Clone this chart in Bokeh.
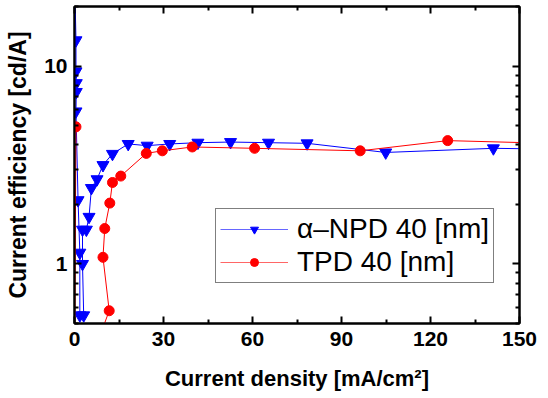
from bokeh.plotting import figure
from bokeh.models import (LinearAxis, LogAxis, FixedTicker, PrintfTickFormatter,
                          Legend, LegendItem, Range1d)
from bokeh.embed import file_html
from bokeh.resources import INLINE

# alpha-NPD 40 nm : current density [mA/cm2], current efficiency [cd/A]
npd_x = [0.0, 0.5, 0.5, 0.6, 0.6, 0.5, 1.2, 1.8, 1.8, 3.1, 2.7, 2.7, 4.0, 4.9,
         5.7, 7.6, 9.6, 12.8, 18.1, 24.5, 32.1, 41.6, 52.6, 65.4, 78.4, 104.9,
         141.2, 152.0]
npd_y = [30.0, 13.5, 9.4, 8.2, 7.4, 5.9, 2.1, 1.14, 0.55, 0.55, 1.0, 1.49, 1.49,
         1.73, 2.42, 2.68, 3.16, 3.6, 4.04, 3.96, 4.04, 4.1, 4.13, 4.1, 4.07,
         3.66, 3.84, 3.82]

# TPD 40 nm
tpd_x = [0.5, 0.0, 8.0, 11.7, 9.6, 10.2, 11.9, 12.8, 15.6, 24.2, 29.6, 39.7,
         60.7, 96.3, 125.8, 152.0]
tpd_y = [4.93, 0.3, 0.41, 0.58, 1.08, 1.51, 2.03, 2.58, 2.78, 3.62, 3.73, 3.9,
         3.84, 3.73, 4.2, 4.1]

x_ticks = [0, 30, 60, 90, 120, 150]
x_minor = [15, 45, 75, 105, 135]
y_ticks = [1, 10]
y_minor = [0.5, 0.6, 0.7, 0.8, 0.9, 2, 3, 4, 5, 6, 7, 8, 9, 20]

series_labels = ["α–NPD 40 [nm]", "TPD 40 [nm]"]

FONT = "Liberation Sans"

p = figure(frame_width=445, frame_height=317,
           x_range=Range1d(0, 150), y_range=Range1d(0.5, 20),
           y_axis_type="log", output_backend="svg", toolbar_location=None,
           min_border_left=74, min_border_right=20, min_border_top=6,
           min_border_bottom=60)
p.xgrid.visible = False
p.ygrid.visible = False
p.outline_line_color = "black"
p.outline_line_width = 2
p.background_fill_color = "white"
p.border_fill_color = "white"

xt = FixedTicker(ticks=x_ticks, minor_ticks=x_minor)
yt = FixedTicker(ticks=y_ticks, minor_ticks=y_minor)

def style(ax, labels=True, label_size="22px"):
    ax.axis_line_color = "black"
    ax.axis_line_width = 2
    ax.major_tick_in = 7
    ax.major_tick_out = 0
    ax.minor_tick_in = 4
    ax.minor_tick_out = 0
    ax.major_tick_line_width = 2
    ax.minor_tick_line_width = 2
    ax.major_tick_line_color = "black"
    ax.minor_tick_line_color = "black"
    if labels:
        ax.major_label_text_font = FONT
        ax.major_label_text_font_style = "bold"
        ax.major_label_text_font_size = "21px"
        ax.major_label_text_color = "black"
        ax.axis_label_text_font = FONT
        ax.axis_label_text_font_style = "bold"
        ax.axis_label_text_font_size = label_size
        ax.axis_label_text_color = "black"
    else:
        ax.major_label_text_font_size = "1px"
        ax.major_label_text_color = None
        ax.major_label_standoff = 0

xa = p.xaxis[0]
xa.ticker = xt
xa.axis_label = "Current density [mA/cm²]"
style(xa, label_size="22px")
xa.major_label_standoff = 8
xa.axis_label_standoff = 17

ya = p.yaxis[0]
ya.ticker = yt
ya.formatter = PrintfTickFormatter(format="%d")
ya.axis_label = "Current efficiency [cd/A]"
style(ya, label_size="23px")
ya.major_label_standoff = 7
ya.axis_label_standoff = 10

top = LinearAxis(ticker=xt)
style(top, labels=False)
p.add_layout(top, "above")
right = LogAxis(ticker=yt)
style(right, labels=False)
p.add_layout(right, "right")

l1 = p.line(npd_x, npd_y, line_color="#0000ff", line_width=1)
s1 = p.scatter(npd_x, npd_y, marker="inverted_triangle", size=12,
               fill_color="#0000ff", line_color="#0000ff")
l2 = p.line(tpd_x, tpd_y, line_color="#ff0000", line_width=1)
s2 = p.scatter(tpd_x, tpd_y, marker="circle", size=10,
               fill_color="#ff0000", line_color="#ff0000")

# legend sample glyphs (lighter lines, smaller markers, as in the original legend);
# fed with the first, off-scale point of each series so nothing shows in the frame
gl1 = p.line(x=npd_x[:1], y=npd_y[:1], line_color="#0000ff", line_width=1, line_alpha=0.6)
gs1 = p.scatter(x=npd_x[:1], y=npd_y[:1], marker="inverted_triangle", size=9,
                fill_color="#0000ff", line_color="#0000ff")
gl2 = p.line(x=tpd_x[1:2], y=tpd_y[1:2], line_color="#ff0000", line_width=1, line_alpha=0.6)
gs2 = p.scatter(x=tpd_x[1:2], y=tpd_y[1:2], marker="circle", size=8,
                fill_color="#ff0000", line_color="#ff0000")

legend = Legend(items=[LegendItem(label=series_labels[0], renderers=[gl1, gs1]),
                       LegendItem(label=series_labels[1], renderers=[gl2, gs2])],
                location=(141, 40))
legend.label_text_font = FONT
legend.label_text_font_size = "28px"
legend.label_text_color = "black"
legend.glyph_width = 68
legend.glyph_height = 20
legend.label_height = 28
legend.label_standoff = 9
legend.spacing = 1
legend.padding = 4
legend.margin = 0
legend.border_line_color = "black"
legend.border_line_width = 1
legend.background_fill_alpha = 1
p.add_layout(legend, "center")

open("out.html", "w").write(file_html(p, INLINE))
